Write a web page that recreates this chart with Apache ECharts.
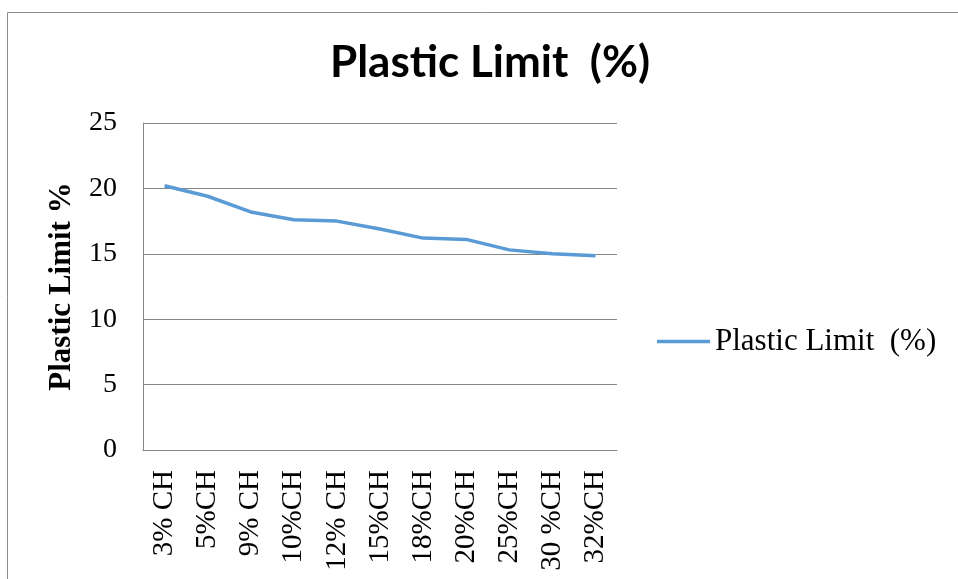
<!DOCTYPE html>
<html>
<head>
<meta charset="utf-8">
<script src="https://cdn.jsdelivr.net/npm/echarts@6/dist/echarts.min.js"></script>
<style>
  html, body { margin: 0; padding: 0; background: #ffffff; }
  #chart { width: 958px; height: 579px; }
</style>
</head>
<body>
<div id="chart"></div>
<script>
// Chitosan content levels along the x axis
const categories = ['3% CH', '5%CH', '9% CH', '10%CH', '12% CH', '15%CH', '18%CH', '20%CH', '25%CH', '30 %CH', '32%CH'];
// Plastic limit (%) measured at each level
const plasticLimit = [20.2, 19.4, 18.2, 17.6, 17.5, 16.9, 16.2, 16.1, 15.3, 15.0, 14.85];
// Value axis ticks
const yTicks = [0, 5, 10, 15, 20, 25];

const seriesName = 'Plastic Limit  (%)';
const serif = '"Liberation Serif", "Times New Roman", serif';
const gridGray = '#878787';

const chart = echarts.init(document.getElementById('chart'), null, { renderer: 'canvas' });

chart.setOption({
  backgroundColor: '#ffffff',
  animation: false,
  title: {
    text: 'Plastic Limit  (%)',
    left: 325,
    top: 36,
    textStyle: {
      fontFamily: 'Lato, "Open Sans", sans-serif',
      fontWeight: 'bold',
      fontSize: 44,
      color: '#000000'
    }
  },
  graphic: [{
    type: 'rect',
    left: 5,
    top: 10,
    shape: { width: 1000, height: 1000 },
    style: { fill: 'none', stroke: '#8c8c8c', lineWidth: 1 },
    silent: true
  }],
  legend: {
    data: [seriesName],
    left: 652,
    top: 321,
    icon: 'rect',
    itemWidth: 53,
    itemHeight: 3.5,
    itemGap: 6,
    textStyle: { fontFamily: serif, fontSize: 31, color: '#000000' }
  },
  grid: { left: 143, right: 341, top: 123, bottom: 129, containLabel: false },
  xAxis: {
    type: 'category',
    data: categories,
    boundaryGap: true,
    axisLine: { show: true, lineStyle: { color: gridGray, width: 1 } },
    axisTick: { show: false },
    axisLabel: {
      rotate: 90,
      margin: 20,
      interval: 0,
      fontFamily: serif,
      fontSize: 29,
      color: '#000000'
    },
    splitLine: { show: false }
  },
  yAxis: {
    type: 'value',
    min: yTicks[0],
    max: yTicks[yTicks.length - 1],
    interval: yTicks[1] - yTicks[0],
    name: 'Plastic Limit %',
    nameLocation: 'middle',
    nameGap: 66,
    nameRotate: 90,
    nameTextStyle: { fontFamily: serif, fontSize: 31, fontWeight: 'bold', color: '#000000' },
    axisLine: { show: true, lineStyle: { color: gridGray, width: 1 } },
    axisTick: { show: false },
    axisLabel: { margin: 26, fontFamily: serif, fontSize: 28, color: '#000000' },
    splitLine: { show: true, lineStyle: { color: gridGray, width: 1 } }
  },
  series: [{
    name: seriesName,
    type: 'line',
    data: plasticLimit,
    symbol: 'none',
    smooth: false,
    lineStyle: { color: '#5B9BD5', width: 3.5 },
    itemStyle: { color: '#5B9BD5' }
  }]
});
</script>
</body>
</html>
